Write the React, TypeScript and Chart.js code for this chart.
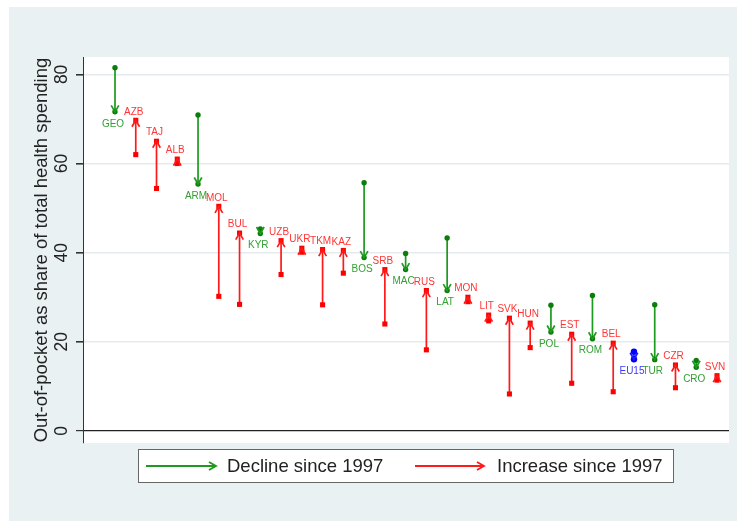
import React, { useEffect, useRef } from 'react';
import { Chart, registerables } from 'chart.js';

Chart.register(...registerables);

// ---- data ----
const countries = ['GEO', 'AZB', 'TAJ', 'ALB', 'ARM', 'MOL', 'BUL', 'KYR', 'UZB', 'UKR', 'TKM', 'KAZ', 'BOS', 'SRB', 'MAC', 'RUS', 'LAT', 'MON', 'LIT', 'SVK', 'HUN', 'POL', 'EST', 'ROM', 'BEL', 'EU15', 'TUR', 'CZR', 'CRO', 'SVN'];
const share1997 = [81.5, 62.0, 54.4, 60.0, 70.9, 30.2, 28.4, 45.3, 35.1, 40.1, 28.3, 35.4, 55.7, 24.0, 39.8, 18.2, 43.3, 29.0, 24.7, 8.3, 18.7, 28.2, 10.7, 30.4, 8.8, 17.8, 28.3, 9.7, 15.8, 11.4];
const shareLatest = [71.6, 69.7, 65.0, 61.0, 55.4, 50.4, 44.4, 44.3, 42.7, 41.0, 40.7, 40.5, 38.9, 36.2, 36.2, 31.5, 31.5, 30.0, 26.0, 25.3, 24.2, 22.2, 21.7, 20.7, 19.7, 16.1, 16.0, 14.8, 14.3, 12.4];
const yTickValues = [0, 20, 40, 60, 80];
const benchmarkName = 'EU15';
const legendLabels = ['Decline since 1997', 'Increase since 1997'];
const yTitle = 'Out-of-pocket as share of total health spending';

// ---- styles ----
const FONT = "'Liberation Sans', Arial, Helvetica, sans-serif";
const GREEN_LINE = '#1e9a1e';
const GREEN_MARK = '#0a7d0a';
const GREEN_TEXT = '#33a033';
const RED_LINE = '#ff1a1a';
const RED_MARK = '#ff0000';
const RED_TEXT = '#ff3535';
const BLUE_LINE = '#1a1aff';
const BLUE_MARK = '#0000ff';
const BLUE_TEXT = '#3a3aff';
const BG = '#e9f1f3';

type Group = { key: string; line: string; mark: string; text: string; style: string; radius: number; below: boolean };
const groups: Group[] = [
  { key: 'decline', line: GREEN_LINE, mark: GREEN_MARK, text: GREEN_TEXT, style: 'circle', radius: 2.7, below: true },
  { key: 'increase', line: RED_LINE, mark: RED_MARK, text: RED_TEXT, style: 'rect', radius: 3.6, below: false },
  { key: 'bench', line: BLUE_LINE, mark: BLUE_MARK, text: BLUE_TEXT, style: 'circle', radius: 3.2, below: true },
];

function groupOf(i: number): string {
  if (countries[i] === benchmarkName) return 'bench';
  return shareLatest[i] < share1997[i] ? 'decline' : 'increase';
}

function buildData(key: string) {
  const data: any[] = [];
  const names: string[] = [];
  countries.forEach((c, i) => {
    if (groupOf(i) !== key) return;
    data.push({ x: i + 1, y: share1997[i] });
    data.push({ x: i + 1, y: shareLatest[i] });
    data.push({ x: i + 1, y: null });
    names.push(c);
  });
  return { data, names };
}

function drawArrowHead(ctx: CanvasRenderingContext2D, x0: number, y0: number, x1: number, y1: number, color: string, len = 6.5, half = 3.8, lw = 1.7) {
  const dx = x1 - x0;
  const dy = y1 - y0;
  const d = Math.hypot(dx, dy) || 1;
  const ux = dx / d;
  const uy = dy / d;
  const px = -uy;
  const py = ux;
  ctx.save();
  ctx.strokeStyle = color;
  ctx.lineWidth = lw;
  ctx.lineJoin = 'miter';
  ctx.beginPath();
  ctx.moveTo(x1 - ux * len + px * half, y1 - uy * len + py * half);
  ctx.lineTo(x1, y1);
  ctx.lineTo(x1 - ux * len - px * half, y1 - uy * len - py * half);
  ctx.stroke();
  ctx.restore();
}

const backgroundPlugin = {
  id: 'stataBackground',
  beforeDraw(chart: any) {
    const { ctx, chartArea } = chart;
    ctx.save();
    ctx.fillStyle = '#ffffff';
    ctx.fillRect(0, 0, chart.width, chart.height);
    ctx.fillStyle = BG;
    ctx.fillRect(9, 7, chart.width - 9, chart.height - 7);
    ctx.fillStyle = '#ffffff';
    ctx.fillRect(chartArea.left, chartArea.top, chartArea.right - chartArea.left, chartArea.bottom - chartArea.top);
    ctx.restore();
  },
};

const arrowsPlugin = {
  id: 'arrowsAndLabels',
  afterDatasetsDraw(chart: any) {
    const { ctx } = chart;
    chart.data.datasets.forEach((ds: any, di: number) => {
      const meta = chart.getDatasetMeta(di);
      const g: Group = ds.groupInfo;
      const names: string[] = ds.names;
      for (let k = 0; k < names.length; k++) {
        const s = meta.data[3 * k];
        const e = meta.data[3 * k + 1];
        if (!s || !e) continue;
        if (Math.abs(e.y - s.y) > 0.5) drawArrowHead(ctx, s.x, s.y, e.x, e.y, g.line);
        ctx.save();
        ctx.font = `10px ${FONT}`;
        ctx.fillStyle = g.text;
        ctx.textAlign = 'center';
        ctx.textBaseline = 'middle';
        const ty = g.below ? e.y + 12 : e.y - 8.5;
        ctx.fillText(names[k], e.x - 2, ty);
        ctx.restore();
      }
    });
  },
};

const legendPlugin = {
  id: 'stataLegend',
  afterDraw(chart: any) {
    const { ctx } = chart;
    const left = 138.5;
    const top = 449.5;
    const w = 535;
    const h = 33;
    ctx.save();
    ctx.fillStyle = '#ffffff';
    ctx.fillRect(left, top, w, h);
    ctx.strokeStyle = '#666666';
    ctx.lineWidth = 1;
    ctx.strokeRect(left, top, w, h);
    const cy = top + h / 2;
    const items = [
      { x0: 146, x1: 216, tx: 227, color: GREEN_LINE, label: legendLabels[0] },
      { x0: 415, x1: 484, tx: 497, color: RED_LINE, label: legendLabels[1] },
    ];
    items.forEach((it) => {
      ctx.strokeStyle = it.color;
      ctx.lineWidth = 1.8;
      ctx.beginPath();
      ctx.moveTo(it.x0, cy);
      ctx.lineTo(it.x1, cy);
      ctx.stroke();
      drawArrowHead(ctx, it.x0, cy, it.x1, cy, it.color, 7, 4, 1.8);
      ctx.fillStyle = '#222222';
      ctx.font = `18.5px ${FONT}`;
      ctx.textAlign = 'left';
      ctx.textBaseline = 'middle';
      ctx.fillText(it.label, it.tx, cy + 1);
    });
    ctx.restore();
  },
};

export default function App() {
  const canvasRef = useRef<HTMLCanvasElement | null>(null);

  useEffect(() => {
    if (!canvasRef.current) return;
    const datasets = groups.map((g) => {
      const { data, names } = buildData(g.key);
      return {
        type: 'scatter' as const,
        label: g.key,
        data,
        names,
        groupInfo: g,
        showLine: true,
        spanGaps: false,
        borderColor: g.line,
        borderWidth: 1.7,
        pointStyle: g.style,
        pointRadius: g.radius,
        pointBackgroundColor: g.mark,
        pointBorderColor: g.mark,
        pointBorderWidth: 0,
        clip: false,
      } as any;
    });

    const chart = new Chart(canvasRef.current, {
      type: 'scatter',
      data: { datasets },
      options: {
        animation: false,
        responsive: false,
        events: [],
        layout: { padding: { top: 57, right: 8, bottom: 78, left: 0 } },
        plugins: { legend: { display: false }, tooltip: { enabled: false } },
        scales: {
          x: { type: 'linear', min: -0.5415, max: 30.578, display: false },
          y: {
            type: 'linear',
            min: -2.7,
            max: 83.9,
            afterFit: (s: any) => { s.width = 83; },
            afterBuildTicks: (s: any) => { s.ticks = yTickValues.map((v) => ({ value: v })); },
            ticks: {
              stepSize: 20,
              includeBounds: false,
              minRotation: 90,
              maxRotation: 90,
              crossAlign: 'center',
              padding: 4,
              color: '#222222',
              font: { family: FONT, size: 17.5 },
            },
            grid: {
              color: (c: any) => (c.tick && c.tick.value === 0 ? '#222222' : '#e3ebee'),
              lineWidth: (c: any) => (c.tick && c.tick.value === 0 ? 1.2 : 1.6),
              tickColor: '#333333',
              tickLength: 7,
              drawTicks: true,
            },
            border: { display: true, color: '#333333', width: 1 },
            title: {
              display: true,
              text: yTitle,
              color: '#222222',
              font: { family: FONT, size: 18.5 },
              padding: { top: 31, bottom: 0 },
            },
          },
        },
      },
      plugins: [backgroundPlugin, arrowsPlugin, legendPlugin],
    } as any);

    return () => chart.destroy();
  }, []);

  return (
    <div style={{ position: 'fixed', left: 0, top: 0, width: 737, height: 521 }}>
      <canvas ref={canvasRef} width={737} height={521} style={{ display: 'block' }} />
    </div>
  );
}
